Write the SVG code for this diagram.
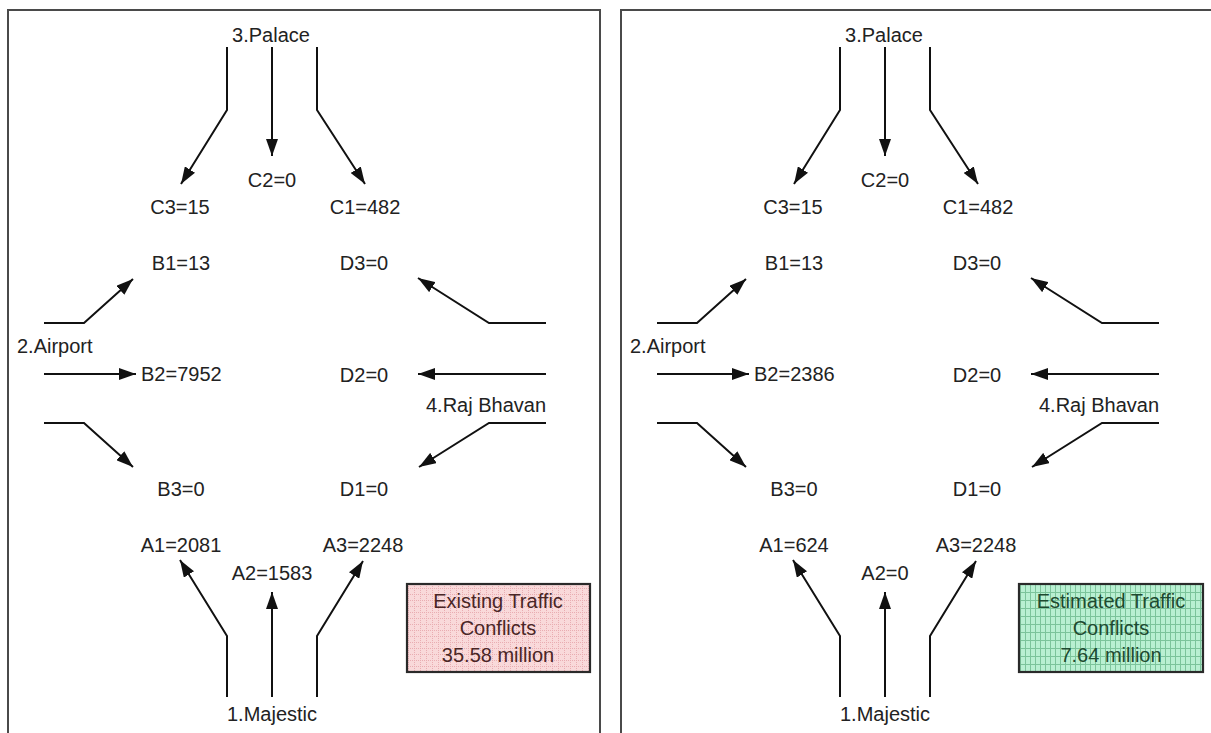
<svg xmlns="http://www.w3.org/2000/svg" width="1211" height="733" viewBox="0 0 1211 733">
<style>
.panel{fill:#fff;stroke:#4a4a4a;stroke-width:2}
.t{font-family:"Liberation Sans",Arial,Helvetica,sans-serif;font-size:20px;fill:#222}
.m{text-anchor:middle}
.c{fill:none;stroke:#111;stroke-width:2;marker-end:url(#ah)}
.box{stroke:#2a2a2a;stroke-width:2.2}
.pt{fill:#4a2626}
.gt{fill:#1e4a30}
</style>
<defs>
<marker id="ah" markerUnits="userSpaceOnUse" markerWidth="18" markerHeight="12" refX="17" refY="6" orient="auto">
<path d="M0,0 L17,6 L0,12 z" fill="#111"/>
</marker>
<pattern id="pink" width="6" height="6" patternUnits="userSpaceOnUse">
<rect width="6" height="6" fill="#f9d9da"/>
<path d="M0,0.5 H6 M0.5,0 V6" stroke="#e9adb2" stroke-width="1" stroke-dasharray="1 1"/>
</pattern>
<pattern id="green" width="5" height="8" patternUnits="userSpaceOnUse">
<rect width="5" height="8" fill="#b9f0d2"/>
<path d="M0.5,0 V8 M0,0.5 H5" stroke="#7cc49b" stroke-width="1"/>
</pattern>
</defs>

<rect class="panel" x="8" y="10" width="592" height="740"/>
<rect class="panel" x="621" y="10" width="600" height="740"/>

<g id="connectors">
<g id="left-connectors">
<path class="c" d="M227,47 V110 L181,184"/>
<path class="c" d="M272,47 V156"/>
<path class="c" d="M317,47 V110 L365,184"/>
<path class="c" d="M44,323 H84 L133,279"/>
<path class="c" d="M44,374 H136"/>
<path class="c" d="M44,423 H84 L133,467"/>
<path class="c" d="M546,323 H489 L418,278"/>
<path class="c" d="M546,374 H418"/>
<path class="c" d="M546,423 H489 L419,467"/>
<path class="c" d="M227,697 V636 L180,560"/>
<path class="c" d="M272,697 V592"/>
<path class="c" d="M317,697 V636 L363,561"/>
</g>
<g id="right-connectors" transform="translate(613,0)">
<path class="c" d="M227,47 V110 L181,184"/>
<path class="c" d="M272,47 V156"/>
<path class="c" d="M317,47 V110 L365,184"/>
<path class="c" d="M44,323 H84 L133,279"/>
<path class="c" d="M44,374 H136"/>
<path class="c" d="M44,423 H84 L133,467"/>
<path class="c" d="M546,323 H489 L418,278"/>
<path class="c" d="M546,374 H418"/>
<path class="c" d="M546,423 H489 L419,467"/>
<path class="c" d="M227,697 V636 L180,560"/>
<path class="c" d="M272,697 V592"/>
<path class="c" d="M317,697 V636 L363,561"/>
</g>
</g>

<g id="left-panel">
<g id="L-palace"><text class="t m" x="271" y="42">3.Palace</text></g>
<g id="L-C2"><text class="t m" x="272" y="187">C2=0</text></g>
<g id="L-C3"><text class="t m" x="180" y="214">C3=15</text></g>
<g id="L-C1"><text class="t m" x="365" y="214">C1=482</text></g>
<g id="L-B1"><text class="t m" x="181" y="270">B1=13</text></g>
<g id="L-D3"><text class="t m" x="364" y="270">D3=0</text></g>
<g id="L-airport"><text class="t" x="17" y="353">2.Airport</text></g>
<g id="L-B2"><text class="t" x="141" y="381">B2=7952</text></g>
<g id="L-D2"><text class="t m" x="364" y="382">D2=0</text></g>
<g id="L-raj"><text class="t m" x="486" y="412">4.Raj Bhavan</text></g>
<g id="L-B3"><text class="t m" x="181" y="496">B3=0</text></g>
<g id="L-D1"><text class="t m" x="364" y="496">D1=0</text></g>
<g id="L-A1"><text class="t m" x="181" y="552">A1=2081</text></g>
<g id="L-A3"><text class="t m" x="363" y="552">A3=2248</text></g>
<g id="L-A2"><text class="t m" x="272" y="580">A2=1583</text></g>
<g id="L-majestic"><text class="t m" x="272" y="721">1.Majestic</text></g>
<g id="L-box">
<rect class="box" x="407" y="584" width="183" height="88" fill="url(#pink)"/>
<text class="t m pt" x="498" y="608">Existing Traffic</text>
<text class="t m pt" x="498" y="635">Conflicts</text>
<text class="t m pt" x="498" y="662">35.58 million</text>
</g>
</g>

<g id="right-panel">
<g id="R-palace"><text class="t m" x="884" y="42">3.Palace</text></g>
<g id="R-C2"><text class="t m" x="885" y="187">C2=0</text></g>
<g id="R-C3"><text class="t m" x="793" y="214">C3=15</text></g>
<g id="R-C1"><text class="t m" x="978" y="214">C1=482</text></g>
<g id="R-B1"><text class="t m" x="794" y="270">B1=13</text></g>
<g id="R-D3"><text class="t m" x="977" y="270">D3=0</text></g>
<g id="R-airport"><text class="t" x="630" y="353">2.Airport</text></g>
<g id="R-B2"><text class="t" x="754" y="381">B2=2386</text></g>
<g id="R-D2"><text class="t m" x="977" y="382">D2=0</text></g>
<g id="R-raj"><text class="t m" x="1099" y="412">4.Raj Bhavan</text></g>
<g id="R-B3"><text class="t m" x="794" y="496">B3=0</text></g>
<g id="R-D1"><text class="t m" x="977" y="496">D1=0</text></g>
<g id="R-A1"><text class="t m" x="794" y="552">A1=624</text></g>
<g id="R-A3"><text class="t m" x="976" y="552">A3=2248</text></g>
<g id="R-A2"><text class="t m" x="885" y="580">A2=0</text></g>
<g id="R-majestic"><text class="t m" x="885" y="721">1.Majestic</text></g>
<g id="R-box">
<rect class="box" x="1019" y="584" width="184" height="88" fill="url(#green)"/>
<text class="t m gt" x="1111" y="608">Estimated Traffic</text>
<text class="t m gt" x="1111" y="635">Conflicts</text>
<text class="t m gt" x="1111" y="662">7.64 million</text>
</g>
</g>
</svg>
